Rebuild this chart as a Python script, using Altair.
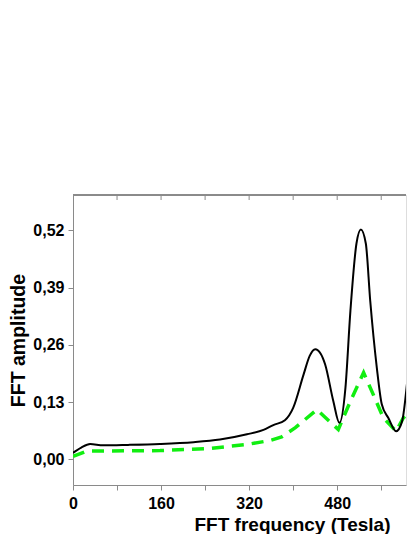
import altair as alt
import pandas as pd

# Black solid curve (FFT amplitude vs frequency)
black_x = [0, 15, 31, 55, 100, 158, 219, 267, 316, 346, 364, 385, 400, 419, 430, 440, 450, 458, 473, 484, 495, 504, 515, 523, 532, 540, 552, 561, 573, 587, 598, 610, 619, 630, 645]
black_y = [0.015, 0.027, 0.035, 0.032, 0.033, 0.035, 0.039, 0.045, 0.057, 0.067, 0.078, 0.089, 0.117, 0.193, 0.235, 0.25, 0.24, 0.216, 0.132, 0.083, 0.163, 0.337, 0.49, 0.522, 0.49, 0.36, 0.208, 0.125, 0.094, 0.064, 0.087, 0.208, 0.299, 0.33, 0.33]

# Green dashed curve
green_x = [0, 25, 158, 249, 316, 358, 379, 404, 443, 482, 504, 528, 540, 564, 587, 600, 622, 645]
green_y = [0.007, 0.019, 0.020, 0.025, 0.034, 0.043, 0.051, 0.072, 0.113, 0.068, 0.132, 0.197, 0.163, 0.094, 0.064, 0.094, 0.121, 0.12]

x_ticks = [0, 80, 160, 240, 320, 400, 480, 560]
y_ticks = [0, 0.065, 0.13, 0.195, 0.26, 0.325, 0.39, 0.455, 0.52, 0.585]

df_black = pd.DataFrame({"f": black_x, "a": black_y})
df_green = pd.DataFrame({"f": green_x, "a": green_y})
df_top = pd.DataFrame({"f": x_ticks[1:]})

W, H = 333, 290
XMAX = 605
FONT = "Liberation Sans"
AX = "#8a8a8a"

xscale = alt.Scale(domain=[0, XMAX], nice=False, zero=False)
yscale = alt.Scale(domain=[-0.058, 0.60], nice=False, zero=False)

xaxis = alt.Axis(
    values=x_ticks,
    labelExpr="datum.value % 160 == 0 ? datum.label : ''",
    title="FFT frequency (Tesla)",
    titleFont=FONT, titleFontSize=19, titleFontWeight="bold", titleColor="black",
    titleX=219, titleAlign="center", titlePadding=4,
    labelFont=FONT, labelFontSize=16, labelFontWeight="bold", labelColor="black",
    labelPadding=5, tickSize=5, tickColor=AX, domainColor=AX, grid=False,
    format="d", labelOverlap=False, labelFlush=False,
)
yaxis = alt.Axis(
    values=y_ticks,
    labelExpr="(round(datum.value*1000) % 130 == 0) ? replace(format(datum.value, '.2f'), '.', ',') : ''",
    title="FFT amplitude",
    titleFont=FONT, titleFontSize=19.5, titleFontWeight="bold", titleColor="black",
    titlePadding=4.5,
    labelFont=FONT, labelFontSize=16, labelFontWeight="bold", labelColor="black",
    labelPadding=4, tickSize=5, tickColor=AX, domainColor=AX, grid=False,
    labelOverlap=False,
)

black = alt.Chart(df_black).mark_line(color="black", strokeWidth=2, interpolate="monotone", clip=True).encode(
    x=alt.X("f:Q", scale=xscale, axis=xaxis),
    y=alt.Y("a:Q", scale=yscale, axis=yaxis),
)
green = alt.Chart(df_green).mark_line(color="#11ee11", strokeWidth=3.5, strokeDash=[12, 8], clip=True).encode(
    x=alt.X("f:Q", scale=xscale),
    y=alt.Y("a:Q", scale=yscale),
)
top_line = alt.Chart(df_top).mark_rule(color=AX, strokeWidth=1).encode(
    x=alt.value(0), x2=alt.value(W), y=alt.value(0)
)
top_ticks = alt.Chart(df_top).mark_rule(color=AX, strokeWidth=1).encode(
    x=alt.X("f:Q", scale=xscale), y=alt.value(0), y2=alt.value(5)
)

chart = alt.layer(green, black, top_line, top_ticks).properties(
    width=W, height=H,
    padding={"top": 186, "left": 0, "right": 0, "bottom": 0},
).configure_view(stroke=None).configure(background="white")

chart.save("out.html", embed_options={"renderer": "svg", "actions": False})
